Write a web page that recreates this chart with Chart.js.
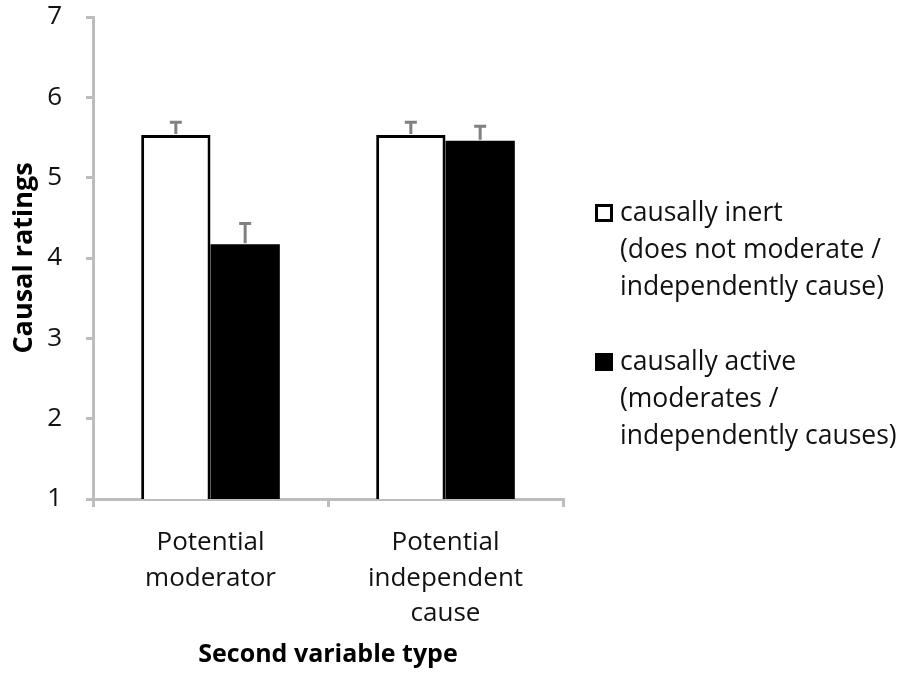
<!DOCTYPE html>
<html>
<head>
<meta charset="utf-8">
<script src="https://cdn.jsdelivr.net/npm/chart.js@4/dist/chart.umd.min.js"></script>
<style>
    html, body { margin: 0; padding: 0; background: #fff; }
    #wrap { width: 903px; height: 678px; }
</style>
</head>
<body>
<div id="wrap"><canvas id="chart" width="903" height="678"></canvas></div>
<script>
// Data
const categories = [['Potential', 'moderator'], ['Potential', 'independent', 'cause']];
const seriesNames = [
    ['causally inert', '(does not moderate /', 'independently cause)'],
    ['causally active', '(moderates /', 'independently causes)']
];
const inertValues = [5.53, 5.53];
const activeValues = [4.17, 5.46];
const inertErrors = [0.16, 0.16];
const activeErrors = [0.26, 0.18];
const yTicks = [1, 2, 3, 4, 5, 6, 7];

const FONT = '"Open Sans", "Noto Sans", sans-serif';
const AXIS_GREY = '#bdbdbd';

// Error bars drawn upward from each bar top
const errorBars = {
    id: 'errorBars',
    afterDatasetsDraw(chart) {
        const ctx = chart.ctx;
        const yScale = chart.scales.y;
        chart.data.datasets.forEach((ds, i) => {
            const meta = chart.getDatasetMeta(i);
            meta.data.forEach((bar, j) => {
                const top = yScale.getPixelForValue(ds.data[j] + ds.errors[j]);
                ctx.save();
                ctx.strokeStyle = '#808080';
                ctx.lineWidth = 3;
                ctx.beginPath();
                ctx.moveTo(bar.x, bar.y - 1);
                ctx.lineTo(bar.x, top);
                ctx.moveTo(bar.x - 6, top);
                ctx.lineTo(bar.x + 6, top);
                ctx.stroke();
                ctx.restore();
            });
        });
    }
};

// Legend on the right, multi-line entries
const sideLegend = {
    id: 'sideLegend',
    afterDraw(chart) {
        const ctx = chart.ctx;
        const x0 = 595;
        const starts = [213, 362];
        const lineGap = 37;
        ctx.save();
        ctx.font = '26.5px ' + FONT;
        ctx.textBaseline = 'middle';
        chart.data.datasets.forEach((ds, i) => {
            const y = starts[i];
            ctx.fillStyle = ds.backgroundColor;
            ctx.fillRect(x0, y - 9, 18, 18);
            ctx.strokeStyle = '#000';
            ctx.lineWidth = 3;
            ctx.strokeRect(x0 + 1.5, y - 7.5, 15, 15);
            ctx.fillStyle = '#111';
            seriesNames[i].forEach((line, k) => {
                ctx.fillText(line, x0 + 25, y + k * lineGap);
            });
        });
        ctx.restore();
    }
};

new Chart(document.getElementById('chart'), {
    type: 'bar',
    data: {
        labels: categories,
        datasets: [
            {
                label: seriesNames[0].join(' '),
                data: inertValues,
                errors: inertErrors,
                backgroundColor: '#ffffff',
                borderColor: '#000000',
                borderWidth: 3
            },
            {
                label: seriesNames[1].join(' '),
                data: activeValues,
                errors: activeErrors,
                backgroundColor: '#000000',
                borderColor: '#000000',
                borderWidth: 0
            }
        ]
    },
    options: {
        responsive: false,
        animation: false,
        layout: { padding: { top: 17, right: 340, bottom: 8, left: 8 } },
        datasets: {
            bar: { categoryPercentage: 0.59, barPercentage: 1.0 }
        },
        plugins: {
            legend: { display: false },
            tooltip: { enabled: false }
        },
        scales: {
            x: {
                grid: {
                    drawOnChartArea: false,
                    color: AXIS_GREY,
                    lineWidth: 3,
                    tickLength: 8
                },
                border: { color: AXIS_GREY, width: 3 },
                ticks: {
                    color: '#111',
                    font: { family: FONT, size: 26, lineHeight: 1.37 },
                    padding: 18,
                    maxRotation: 0
                },
                title: {
                    display: true,
                    text: 'Second variable type',
                    color: '#000',
                    font: { family: FONT, size: 25, weight: 'bold' },
                    padding: { top: 4, bottom: 0 }
                },
                afterFit(scale) { scale.height = 171; }
            },
            y: {
                min: 1,
                max: 7,
                ticks: {
                    color: '#111',
                    font: { family: FONT, size: 26 },
                    padding: 24
                },
                afterBuildTicks(scale) {
                    scale.ticks = yTicks.map(v => ({ value: v }));
                },
                grid: {
                    drawOnChartArea: false,
                    color: AXIS_GREY,
                    lineWidth: 3,
                    tickLength: 7
                },
                border: { color: AXIS_GREY, width: 3 },
                title: {
                    display: true,
                    text: 'Causal ratings',
                    color: '#000',
                    font: { family: FONT, size: 27, weight: 'bold' },
                    padding: { top: 0, bottom: 6 }
                },
                afterFit(scale) {
                    scale.width = 85;
                    // keep the plot top pinned to the layout padding
                    scale.paddingTop = 0;
                    scale.paddingBottom = 0;
                }
            }
        }
    },
    plugins: [errorBars, sideLegend]
});
</script>
</body>
</html>
